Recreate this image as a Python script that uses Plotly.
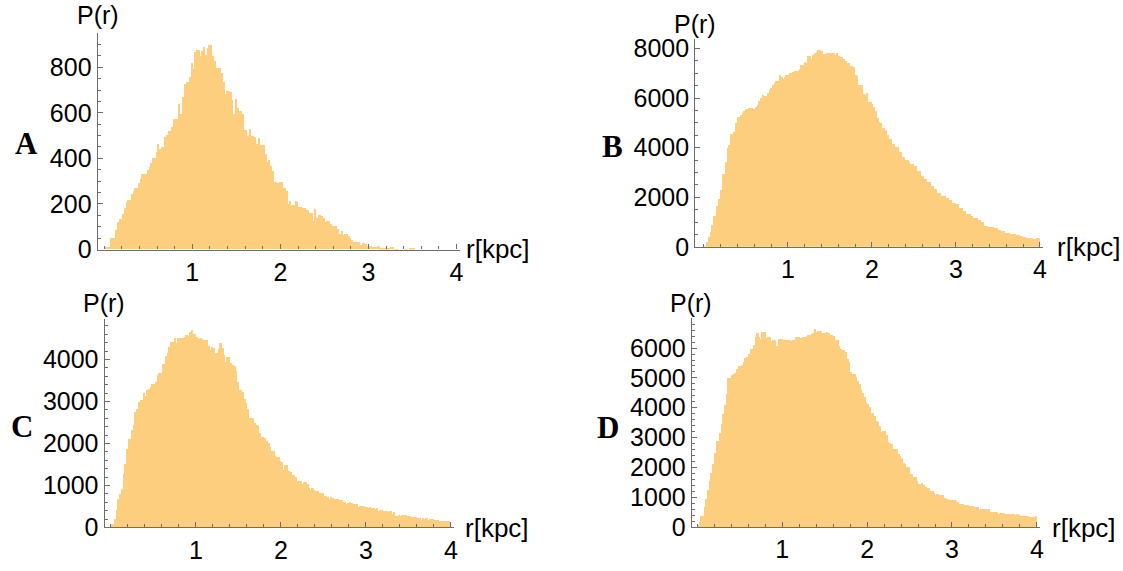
import numpy as np
import plotly.graph_objects as go

# ---------------- data (counts per 0.02 kpc bin, r = 0 .. 4 kpc) ----------------
BIN_WIDTH = 0.02
N_BINS = 200

A_counts = [
    10, 10, 10, 50, 50, 50, 85, 119, 135, 135,
    155, 183, 208, 216, 216, 244, 255, 270, 270, 291,
    311, 332, 332, 332, 350, 364, 379, 400, 400, 426,
    464, 443, 450, 450, 492, 502, 521, 521, 539, 573,
    573, 573, 638, 596, 667, 726, 733, 733, 755, 818,
    790, 868, 875, 875, 851, 871, 889, 854, 882, 899,
    899, 847, 826, 797, 797, 797, 776, 733, 684, 695,
    695, 691, 658, 596, 660, 620, 606, 606, 596, 525,
    525, 499, 528, 499, 499, 492, 464, 488, 460, 457,
    457, 417, 386, 393, 367, 346, 294, 294, 291, 294,
    294, 268, 268, 255, 201, 213, 194, 194, 213, 208,
    187, 187, 183, 183, 173, 173, 162, 162, 123, 179,
    138, 153, 153, 147, 140, 119, 123, 123, 112, 102,
    102, 102, 88, 70, 81, 64, 70, 70, 60, 52,
    41, 34, 31, 31, 34, 21, 28, 28, 24, 17,
    13, 13, 10, 10, 10, 13, 7, 6, 6, 4,
    6, 6, 9, 9, 1, 1, 1, 0, 0, 0,
    2, 2, 0, 3, 3, 3, 0, 0, 0, 0,
    0, 0, 0, 0, 0, 0, 0, 0, 0, 0,
    0, 0, 0, 0, 0, 0, 0, 0, 0, 0,
]

B_counts = [
    26, 26, 221, 417, 612, 911, 1263, 1263, 1654, 1940,
    2305, 2956, 2956, 3451, 3997, 4128, 4583, 4583, 4648, 5000,
    5260, 5260, 5339, 5430, 5495, 5586, 5586, 5599, 5599, 5560,
    5560, 5664, 5755, 5911, 6016, 6146, 6120, 6120, 6211, 6341,
    6406, 6563, 6641, 6693, 6693, 6953, 6862, 6797, 6862, 6953,
    6953, 7018, 7031, 7083, 7122, 7122, 7122, 7188, 7344, 7344,
    7474, 7422, 7734, 7734, 7604, 7773, 7839, 7865, 7943, 7943,
    7904, 7813, 7813, 7839, 7839, 7839, 7839, 7839, 7773, 7839,
    7734, 7682, 7682, 7604, 7513, 7448, 7422, 7292, 7292, 7253,
    6953, 6927, 6563, 6530, 6530, 6172, 6146, 6211, 5859, 5859,
    5794, 5651, 5495, 5208, 5039, 5000, 4818, 4818, 4714, 4518,
    4362, 4362, 4176, 4176, 4047, 4047, 3852, 3852, 3658, 3658,
    3528, 3528, 3450, 3372, 3372, 3268, 3268, 3074, 3074, 2879,
    2879, 2750, 2750, 2620, 2620, 2490, 2490, 2335, 2335, 2205,
    2205, 2075, 2075, 2075, 1971, 1971, 1907, 1907, 1777, 1777,
    1738, 1738, 1582, 1582, 1453, 1453, 1323, 1323, 1323, 1258,
    1193, 1193, 1193, 1089, 1089, 999, 999, 869, 869, 830,
    830, 804, 804, 765, 765, 700, 700, 649, 649, 571,
    571, 571, 545, 545, 519, 519, 506, 506, 441, 441,
    415, 415, 389, 389, 389, 389, 350, 350, 389, 389,
]

C_counts = [
    77, 77, 208, 423, 692, 800, 923, 1269, 1523, 1862,
    2115, 2115, 2323, 2446, 2754, 2823, 2985, 3038, 3038, 3208,
    3138, 3285, 3292, 3346, 3423, 3423, 3462, 3631, 3692, 3692,
    3900, 3900, 4092, 4169, 4292, 4423, 4423, 4523, 4400, 4523,
    4523, 4515, 4515, 4538, 4592, 4577, 4654, 4708, 4615, 4615,
    4538, 4500, 4515, 4500, 4462, 4477, 4477, 4331, 4231, 4308,
    4285, 4169, 4169, 4254, 4400, 4269, 4115, 3938, 4062, 4062,
    3923, 3885, 3846, 3731, 3477, 3269, 3269, 3231, 3062, 2962,
    2831, 2615, 2615, 2600, 2500, 2446, 2423, 2246, 2154, 2154,
    2131, 2062, 2015, 1923, 1831, 1831, 1715, 1692, 1692, 1592,
    1562, 1362, 1500, 1500, 1346, 1331, 1254, 1254, 1215, 1100,
    1100, 1100, 1038, 1077, 1077, 1038, 938, 900, 938, 900,
    869, 869, 823, 823, 823, 754, 754, 731, 692, 731,
    708, 677, 677, 692, 646, 646, 600, 600, 554, 577,
    600, 577, 554, 554, 554, 485, 523, 508, 508, 500,
    485, 462, 485, 477, 477, 446, 462, 400, 408, 415,
    385, 385, 385, 369, 385, 323, 362, 285, 285, 292,
    285, 292, 292, 292, 269, 269, 254, 254, 246, 254,
    231, 231, 192, 231, 208, 231, 192, 200, 200, 208,
    192, 177, 185, 169, 169, 162, 160, 150, 150, 130,
]

D_counts = [
    54, 162, 346, 346, 649, 919, 1243, 1535, 1816, 2108,
    2486, 2865, 2865, 3157, 3459, 3784, 4086, 4454, 4973, 4973,
    5081, 5135, 5157, 5297, 5384, 5384, 5427, 5535, 5654, 5697,
    5784, 5968, 5968, 6108, 6378, 6508, 6378, 6292, 6541, 6541,
    6324, 6378, 6357, 6216, 6270, 6270, 6054, 6054, 6292, 6292,
    6076, 6270, 6270, 6249, 6270, 6216, 6270, 6270, 6357, 6357,
    6184, 6324, 6357, 6378, 6400, 6432, 6432, 6465, 6486, 6616,
    6541, 6573, 6573, 6486, 6508, 6486, 6541, 6486, 6432, 6432,
    6400, 6270, 6249, 6054, 5968, 5924, 5924, 5860, 5622, 5535,
    5189, 5135, 5135, 5027, 4900, 4780, 4600, 4500, 4348, 4185,
    4109, 4000, 3826, 3826, 3717, 3533, 3500, 3391, 3174, 3196,
    3196, 3065, 2848, 2804, 2772, 2609, 2609, 2609, 2424, 2370,
    2315, 2152, 2120, 1989, 1989, 1761, 1761, 1663, 1663, 1522,
    1435, 1435, 1467, 1413, 1326, 1283, 1283, 1196, 1196, 1141,
    1065, 1109, 1054, 1054, 1054, 978, 946, 924, 891, 891,
    891, 891, 870, 815, 761, 761, 761, 739, 739, 728,
    707, 685, 685, 674, 652, 652, 565, 598, 598, 598,
    598, 598, 489, 489, 489, 489, 489, 435, 457, 457,
    457, 435, 440, 420, 420, 430, 410, 400, 410, 380,
    370, 370, 360, 350, 350, 340, 330, 340, 320, 350,
]

X_TICKS = [1, 2, 3, 4]
A_YTICKS = [0, 200, 400, 600, 800]
B_YTICKS = [0, 2000, 4000, 6000, 8000]
C_YTICKS = [0, 1000, 2000, 3000, 4000]
D_YTICKS = [0, 1000, 2000, 3000, 4000, 5000, 6000]

PANEL_LETTERS = ["A", "B", "C", "D"]
Y_LABEL = "P(r)"
X_LABEL = "r[kpc]"

# ---------------- styling / layout ----------------
W, H = 1123, 571
BAR_COLOR = "#FCCE7E"
AX_COLOR = "#6e6e6e"
FONT = "Liberation Sans"
TICK_SIZE = 25
LABEL_SIZE = 26
BAR_OVERLAP = 1.15   # bars drawn slightly wider than the bin to hide anti-alias seams

centers = BIN_WIDTH * (np.arange(N_BINS) + 0.5)


def px(x):
    return x / W


def py(y):
    return 1 - y / H


panels = [
    dict(counts=A_counts, yt=A_YTICKS, ymin=50, xd=(98.0, 461.7), xr=(-0.075, 4.04),
         yd=(253.5, 30.0), yr=(0, 950)),
    dict(counts=B_counts, yt=B_YTICKS, ymin=500, xd=(697.7, 1047.0), xr=(-0.103, 4.04),
         yd=(250.7, 35.7), yr=(0, 8400)),
    dict(counts=C_counts, yt=C_YTICKS, ymin=200, xd=(105.0, 455.9), xr=(-0.074, 4.04),
         yd=(540.5, 325.1), yr=(0, 4970)),
    dict(counts=D_counts, yt=D_YTICKS, ymin=200, xd=(694.3, 1044.0), xr=(-0.065, 4.04),
         yd=(540.0, 324.5), yr=(0, 7000)),
]

fig = go.Figure()
layout = dict(
    width=W, height=H,
    margin=dict(l=0, r=0, t=0, b=0),
    paper_bgcolor="white", plot_bgcolor="rgba(0,0,0,0)",
    showlegend=False, bargap=0,
    font=dict(family=FONT, color="black"),
)

x_minor_vals = [round(0.2 * k, 2) for k in range(0, 21)]

for k, p in enumerate(panels):
    n = k + 1
    xa = "x" if n == 1 else f"x{n}"
    ya = "y" if n == 1 else f"y{n}"
    fig.add_trace(go.Bar(
        x=centers, y=p["counts"], width=BIN_WIDTH * BAR_OVERLAP,
        marker=dict(color=BAR_COLOR, line=dict(width=0)),
        xaxis=xa, yaxis=ya, hoverinfo="skip",
    ))
    ymax = p["yr"][1]
    y_minor_vals = list(range(0, int(ymax) + 1, p["ymin"]))
    common = dict(
        showline=True, linecolor=AX_COLOR, linewidth=1.2,
        ticks="inside", tickcolor=AX_COLOR, tickwidth=1.1, ticklen=5,
        showgrid=False, zeroline=False, fixedrange=True,
        tickfont=dict(family=FONT, size=TICK_SIZE, color="black"),
        layer="above traces",
    )
    layout["xaxis" if n == 1 else f"xaxis{n}"] = dict(
        domain=[px(p["xd"][0]), px(p["xd"][1])], range=list(p["xr"]),
        anchor=ya, tickmode="array", tickvals=X_TICKS,
        ticktext=[str(v) for v in X_TICKS],
        minor=dict(tickmode="array", tickvals=x_minor_vals, ticks="inside",
                   ticklen=3, tickcolor=AX_COLOR, tickwidth=1),
        **common,
    )
    layout["yaxis" if n == 1 else f"yaxis{n}"] = dict(
        domain=[py(p["yd"][0]), py(p["yd"][1])], range=list(p["yr"]),
        anchor=xa, tickmode="array", tickvals=p["yt"],
        ticktext=[str(v) for v in p["yt"]],
        minor=dict(tickmode="array", tickvals=y_minor_vals, ticks="inside",
                   ticklen=3, tickcolor=AX_COLOR, tickwidth=1),
        **common,
    )

annotations = []
for (cx, cy) in [(98, 11), (697, 21), (104, 309), (693, 309)]:
    annotations.append(dict(text=Y_LABEL, x=px(cx), y=py(cy), xref="paper", yref="paper",
                            xanchor="center", yanchor="middle", showarrow=False,
                            font=dict(family=FONT, size=TICK_SIZE, color="black")))
for (lx, cy) in [(466, 253), (1059, 251), (465, 541), (1054, 541)]:
    annotations.append(dict(text=X_LABEL, x=px(lx), y=py(cy), xref="paper", yref="paper",
                            xanchor="left", yanchor="middle", showarrow=False,
                            font=dict(family=FONT, size=LABEL_SIZE, color="black")))
for letter, (cx, cy) in zip(PANEL_LETTERS, [(27, 144), (615, 147), (22, 436), (610, 437)]):
    annotations.append(dict(text=f"<b>{letter}</b>", x=px(cx), y=py(cy), xref="paper", yref="paper",
                            xanchor="center", yanchor="middle", showarrow=False,
                            font=dict(family="Liberation Serif", size=31, color="black")))
layout["annotations"] = annotations

fig.update_layout(**layout)
fig.write_html("out.html")
